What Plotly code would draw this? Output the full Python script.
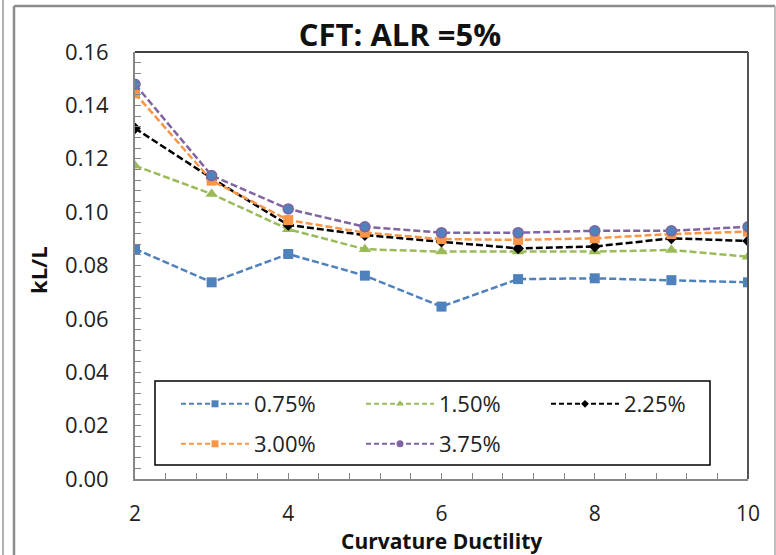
import plotly.graph_objects as go

ductility = [2, 3, 4, 5, 6, 7, 8, 9, 10]
s075 = [0.0862, 0.0737, 0.0843, 0.0762, 0.0646, 0.0749, 0.0752, 0.0745, 0.0737]
s150 = [0.1174, 0.1068, 0.0936, 0.0861, 0.0852, 0.0852, 0.0852, 0.0858, 0.0833]
s225 = [0.1314, 0.1127, 0.0952, 0.0914, 0.0889, 0.0864, 0.0871, 0.0902, 0.0892]
s300 = [0.1445, 0.1118, 0.0970, 0.0923, 0.0899, 0.0896, 0.0902, 0.0918, 0.0927]
s375 = [0.1479, 0.1137, 0.1012, 0.0945, 0.0923, 0.0923, 0.0930, 0.0930, 0.0945]
labels = ["0.75%", "1.50%", "2.25%", "3.00%", "3.75%"]

FONT = "Open Sans"
DASH = "7px,3px"

series = [
    (labels[0], s075, "#4F81BD", "square", "#4F81BD", 10, 7, "legend"),
    (labels[1], s150, "#9BBB59", "triangle-up", "#9BBB59", 11, 7, "legend"),
    (labels[2], s225, "#000000", "diamond", "#000000", 9, 6, "legend"),
    (labels[3], s300, "#F79646", "square", "#F79646", 10, 7, "legend2"),
    (labels[4], s375, "#8064A2", "circle", "#4F81BD", 10, 7, "legend2"),
]

fig = go.Figure()
for name, vals, lc, sym, mc, ms, lms, lg in series:
    is_circle = sym == "circle"
    fig.add_trace(go.Scatter(
        x=ductility, y=vals, name=name, mode="lines+markers",
        line=dict(color=lc, width=2.5, dash=DASH),
        marker=dict(symbol=sym, size=ms, color=mc,
                    line=dict(color=lc, width=1.5 if is_circle else 0)),
        legendgroup=name, showlegend=False,
    ))
    # legend entry with the small legend marker
    fig.add_trace(go.Scatter(
        x=[None], y=[None], name=name, mode="lines+markers",
        line=dict(color=lc, width=2, dash="5px,3px"),
        marker=dict(symbol=sym, size=lms, color=lc if is_circle else mc),
        legendgroup=name, showlegend=True, legend=lg,
    ))

L, R, T, B = 135, 28, 52, 76
W, H = 776, 555
pw, ph = W - L - R, H - T - B


def px(xp):
    return (xp - L) / pw


def py(yp):
    return (H - B - yp) / ph


axis_col = "#868686"
txt_col = "#222222"
fig.update_layout(
    width=W, height=H,
    margin=dict(l=L, r=R, t=T, b=B, autoexpand=False),
    paper_bgcolor="white", plot_bgcolor="white",
    font=dict(family=FONT, color=txt_col),
    title=dict(text="<b>CFT: ALR =5%</b>", x=400 / W, xanchor="center",
               y=1 - 35 / H, yanchor="middle",
               font=dict(family=FONT, size=31, color="#111111")),
    xaxis=dict(range=[2, 10], dtick=2, tick0=2, showgrid=False, zeroline=False,
               showline=True, linecolor=axis_col, linewidth=2,
               ticks="inside", ticklen=6, tickcolor=axis_col, tickwidth=1,
               minor=dict(dtick=0.4, ticks="inside", ticklen=6, tickcolor=axis_col, tickwidth=1),
               tickfont=dict(family=FONT, size=21, color=txt_col),
               ticklabelstandoff=15, automargin=False),
    yaxis=dict(range=[0, 0.16], dtick=0.02, tickformat=".2f", showgrid=False, zeroline=False,
               showline=True, linecolor=axis_col, linewidth=2,
               ticks="inside", ticklen=6, tickcolor=axis_col, tickwidth=1,
               minor=dict(dtick=0.004, ticks="inside", ticklen=6, tickcolor=axis_col, tickwidth=1),
               tickfont=dict(family=FONT, size=22, color=txt_col),
               ticklabelstandoff=20, automargin=False),
    legend=dict(orientation="h", x=px(176), y=py(404), xanchor="left", yanchor="middle",
                entrywidth=102, itemwidth=68, borderwidth=0, bgcolor="rgba(0,0,0,0)",
                font=dict(family=FONT, size=22, color=txt_col), traceorder="normal"),
    legend2=dict(orientation="h", x=px(176), y=py(444), xanchor="left", yanchor="middle",
                 entrywidth=102, itemwidth=68, borderwidth=0, bgcolor="rgba(0,0,0,0)",
                 font=dict(family=FONT, size=22, color=txt_col), traceorder="normal"),
    annotations=[
        dict(text="<b>Curvature Ductility</b>", x=0.5, y=py(541), xref="paper", yref="paper",
             showarrow=False, xanchor="center", yanchor="middle",
             font=dict(family=FONT, size=21, color="#111111")),
        dict(text="<b>kL/L</b>", x=px(38), y=py(270), xref="paper", yref="paper",
             showarrow=False, xanchor="center", yanchor="middle", textangle=-90,
             font=dict(family=FONT, size=22, color="#111111")),
    ],
    shapes=[
        # legend box
        dict(type="rect", xref="paper", yref="paper", x0=px(155), x1=px(710), y0=py(465), y1=py(381),
             line=dict(color="#000000", width=1.5), fillcolor="rgba(0,0,0,0)", layer="below"),
        # plot area top and right borders
        dict(type="line", xref="paper", yref="paper", x0=0, x1=1, y0=1, y1=1,
             line=dict(color="#000000", width=1.5)),
        dict(type="line", xref="paper", yref="paper", x0=1, x1=1, y0=0, y1=1,
             line=dict(color="#555555", width=2)),
        # outer chart frame
        dict(type="line", xref="paper", yref="paper", x0=px(14), x1=px(775), y0=py(6), y1=py(6),
             line=dict(color="#8c8c8c", width=2.5)),
        dict(type="line", xref="paper", yref="paper", x0=px(14), x1=px(14), y0=py(6), y1=py(560),
             line=dict(color="#8c8c8c", width=2.5)),
        dict(type="line", xref="paper", yref="paper", x0=px(775), x1=px(775), y0=py(6), y1=py(560),
             line=dict(color="#aaaaaa", width=1.5)),
        dict(type="line", xref="paper", yref="paper", x0=px(3), x1=px(3), y0=py(0), y1=py(560),
             line=dict(color="#999999", width=1.5)),
    ],
)

fig.write_html("out.html", config={"displayModeBar": False},
               post_script="document.body.style.margin='0';")
